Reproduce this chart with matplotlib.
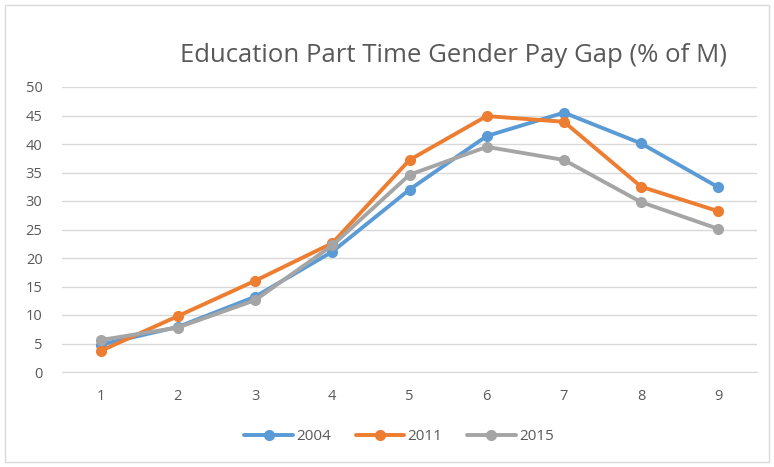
import matplotlib.pyplot as plt
from matplotlib.patches import Rectangle

plt.rcParams['font.family'] = ['Open Sans', 'DejaVu Sans']

# Gender pay gap per grade, one series per year
grades = [1, 2, 3, 4, 5, 6, 7, 8, 9]
gap_2004 = [4.8, 7.9, 13.2, 21.1, 32.0, 41.4, 45.5, 40.1, 32.4]
gap_2011 = [3.7, 9.8, 16.0, 22.6, 37.2, 44.9, 43.9, 32.5, 28.2]
gap_2015 = [5.6, 7.8, 12.6, 22.2, 34.6, 39.5, 37.2, 29.8, 25.1]
years = ['2004', '2011', '2015']
colors = ['#5B9BD5', '#ED7D31', '#A5A5A5']
text_color = '#595959'

fig = plt.figure(figsize=(7.74, 4.67), dpi=100)
ax = fig.add_axes([62 / 774, 1 - 372 / 467, (757 - 62) / 774, (372 - 87) / 467])

for vals, year, c in zip([gap_2004, gap_2011, gap_2015], years, colors):
    ax.plot(grades, vals, color=c, linewidth=2.8, marker='o', markersize=7,
            label=year, solid_capstyle='round', solid_joinstyle='round')

ax.set_xlim(0.5, 9.5)
ax.set_ylim(0, 50)
ax.set_yticks(range(0, 51, 5))
ax.set_xticks(grades)
ax.grid(axis='y', color='#D9D9D9', linewidth=1)
ax.set_axisbelow(True)
for side in ['left', 'right', 'top']:
    ax.spines[side].set_visible(False)
ax.spines['bottom'].set_color('#D9D9D9')
ax.tick_params(length=0, labelsize=10.5, labelcolor=text_color)
ax.tick_params(axis='x', pad=12)
ax.tick_params(axis='y', pad=14)

fig.text(454 / 774, 1 - 55 / 467, 'Education Part Time Gender Pay Gap (% of M)',
         ha='center', va='center', fontsize=18.5, color=text_color)

ax.legend(loc='center', bbox_to_anchor=(399 / 774, 1 - 437 / 467),
          bbox_transform=fig.transFigure, ncol=3, frameon=False,
          fontsize=11, labelcolor=text_color, handlelength=3.2,
          columnspacing=1.6, handletextpad=0.2)

# outer chart frame
fig.patches.append(Rectangle((5 / 774, 5 / 467), 764 / 774, 457 / 467,
                             transform=fig.transFigure, fill=False,
                             edgecolor='#D9D9D9', linewidth=1))

fig.savefig('out.png', dpi=100)
